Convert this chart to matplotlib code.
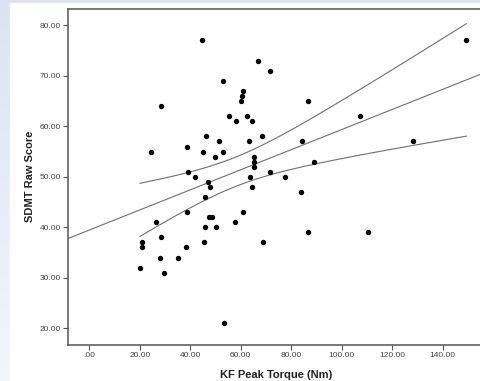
import numpy as np
import matplotlib.pyplot as plt
from matplotlib.patches import Rectangle

plt.rcParams['font.family'] = ['Liberation Sans', 'DejaVu Sans']

# KF peak torque (Nm) and SDMT raw score
kf = np.array([44.5, 53.0, 28.6, 55.2, 58.3, 24.5, 38.7, 46.4, 45.1, 51.5,
               53.0, 50.0, 39.1, 42.0, 47.0, 47.9, 66.7, 71.6, 61.0, 60.5,
               60.0, 86.6, 62.3, 64.5, 107.4, 63.1, 68.4, 84.1, 128.1, 149.4,
               65.4, 65.4, 65.4, 89.0, 63.8, 71.8, 77.5, 64.3, 83.9, 46.0,
               38.8, 26.3, 47.4, 48.7, 61.1, 57.9, 45.7, 50.2, 28.6, 20.8,
               20.9, 45.6, 69.0, 38.2, 28.0, 35.3, 20.1, 29.7, 53.5, 86.6,
               110.4])
sdmt = np.array([77, 69, 64, 62, 61, 55, 56, 58, 55, 57,
                 55, 54, 51, 50, 49, 48, 73, 71, 67, 66,
                 65, 65, 62, 61, 62, 57, 58, 57, 57, 77,
                 54, 53, 52, 53, 50, 51, 50, 48, 47, 46,
                 43, 41, 42, 42, 43, 41, 40, 40, 38, 37,
                 36, 37, 37, 36, 34, 34, 32, 31, 21, 39,
                 39])

xticks = [0, 20, 40, 60, 80, 100, 120, 140]
yticks = [20, 30, 40, 50, 60, 70, 80]

# linear fit and 95% CI of the mean
b, a = np.polyfit(kf, sdmt, 1)
n = len(kf)
resid = sdmt - (a + b * kf)
s = np.sqrt(np.sum(resid ** 2) / (n - 2))
sxx = np.sum((kf - kf.mean()) ** 2)
t = 2.001

fig = plt.figure(figsize=(4.81, 3.81), dpi=100)

# bluish backdrop with white panel
bg = fig.add_axes([0, 0, 1, 1], zorder=-10)
grad = np.linspace(0, 1, 100).reshape(-1, 1)
c_top = np.array([0.86, 0.89, 0.95])
c_bot = np.array([0.95, 0.965, 0.985])
img = c_top + (c_bot - c_top) * grad[:, :, None]
bg.imshow(img, aspect='auto', extent=[0, 1, 0, 1])
bg.add_patch(Rectangle((10 / 481, 0), 1, 1 - 3 / 381, color='white'))
bg.set_xlim(0, 1)
bg.set_ylim(0, 1)
bg.axis('off')

ax = fig.add_axes([68 / 481, 36 / 381, 417 / 481, 336.5 / 381])
ax.set_facecolor('none')

xx = np.linspace(-8.44, 156.8, 200)
ax.plot(xx, a + b * xx, color='#707070', lw=0.8)
xb = np.linspace(kf.min(), kf.max(), 200)
h = t * s * np.sqrt(1 / n + (xb - kf.mean()) ** 2 / sxx)
ax.plot(xb, a + b * xb + h, color='#707070', lw=0.8)
ax.plot(xb, a + b * xb - h, color='#707070', lw=0.8)

ax.scatter(kf, sdmt, s=15, color='black', zorder=3, linewidths=0)

ax.set_xlim(-8.44, 156.8)
ax.set_ylim(16.69, 83.33)
ax.set_xticks(xticks)
ax.set_yticks(yticks)
ax.set_xticklabels(['.00' if v == 0 else '%.2f' % v for v in xticks])
ax.set_yticklabels(['%.2f' % v for v in yticks])
ax.tick_params(length=3.5, width=0.8, color='#555555', labelsize=6,
               labelcolor='#444444', pad=1.5)
for sp in ax.spines.values():
    sp.set_color('#555555')
    sp.set_linewidth(1.1)

ax.set_xlabel('KF Peak Torque (Nm)', fontsize=8, fontweight='bold',
              color='#222222', labelpad=8)
ax.set_ylabel('SDMT Raw Score', fontsize=8, fontweight='bold',
              color='#222222', labelpad=3.5)

fig.savefig('out.png', dpi=100)
